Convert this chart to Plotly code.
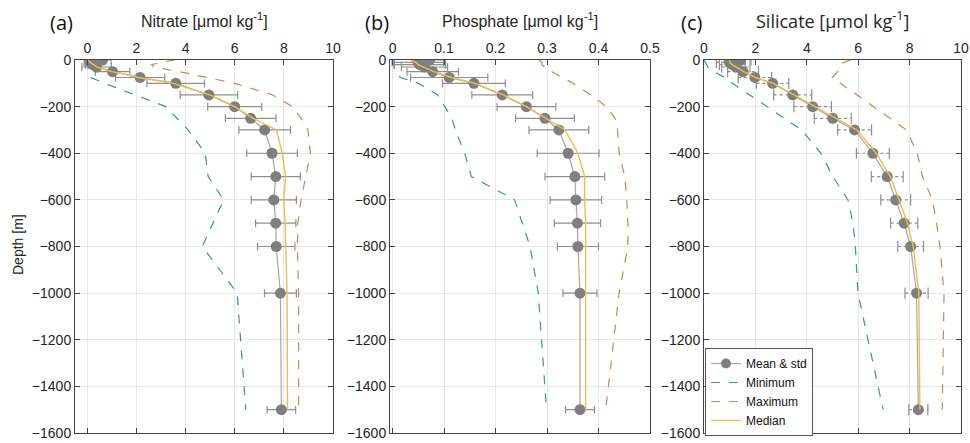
import plotly.graph_objects as go

depths = [0, -10, -20, -30, -50, -75, -100, -150, -200, -250, -300, -400, -500, -600, -700, -800, -1000, -1500]

# Nitrate
mean_a = [0.62, 0.12, 0.22, 0.38, 1.03, 2.15, 3.60, 4.95, 6.00, 6.65, 7.22, 7.52, 7.67, 7.59, 7.67, 7.69, 7.86, 7.90]
std_a = [0.35, 0.25, 0.30, 0.60, 0.70, 1.00, 1.17, 1.17, 1.10, 1.03, 1.05, 1.03, 1.00, 0.92, 0.82, 0.76, 0.65, 0.58]
min_a = [0.0, 0.0, 0.02, 0.03, 0.05, 0.15, 0.7, 1.95, 3.2, 3.65, 4.1, 4.8, 4.92, 5.55, 5.1, 4.68, 6.1, 6.45]
max_a = [3.57, 3.0, 2.62, 2.7, 3.75, 4.9, 6.0, 7.55, 8.35, 8.7, 8.98, 9.08, 8.9, 8.7, 8.57, 8.55, 8.6, 8.6]
med_a = [0.05, 0.12, 0.25, 0.4, 1.0, 2.1, 3.5, 5.0, 6.0, 6.75, 7.7, 7.93, 8.07, 8.0, 8.05, 8.07, 8.13, 8.15]

# Phosphate
mean_b = [0.072, 0.049, 0.053, 0.062, 0.078, 0.110, 0.158, 0.213, 0.260, 0.296, 0.323, 0.341, 0.354, 0.356, 0.359, 0.360, 0.364, 0.364]
std_b = [0.03, 0.05, 0.05, 0.045, 0.05, 0.075, 0.061, 0.059, 0.057, 0.057, 0.058, 0.060, 0.058, 0.050, 0.045, 0.040, 0.033, 0.028]
min_b = [0.003, 0.002, 0.002, 0.003, 0.005, 0.015, 0.05, 0.088, 0.101, 0.115, 0.122, 0.14, 0.153, 0.237, 0.252, 0.267, 0.283, 0.299]
max_b = [0.285, 0.29, 0.29, 0.295, 0.31, 0.33, 0.35, 0.385, 0.415, 0.432, 0.437, 0.44, 0.451, 0.455, 0.457, 0.457, 0.44, 0.414]
med_b = [0.035, 0.045, 0.05, 0.06, 0.08, 0.115, 0.16, 0.215, 0.26, 0.298, 0.335, 0.36, 0.373, 0.373, 0.375, 0.375, 0.375, 0.375]

# Silicate
mean_c = [1.43, 0.98, 1.10, 1.24, 1.52, 1.98, 2.67, 3.45, 4.23, 5.01, 5.86, 6.57, 7.13, 7.46, 7.79, 8.04, 8.27, 8.34]
std_c = [0.4, 0.5, 0.5, 0.55, 0.6, 0.65, 0.63, 0.74, 0.73, 0.72, 0.66, 0.64, 0.62, 0.58, 0.53, 0.50, 0.45, 0.37]
min_c = [0.0, 0.05, 0.1, 0.15, 0.4, 0.8, 1.1, 1.78, 2.45, 3.13, 3.8, 4.55, 5.01, 5.6, 5.8, 5.89, 5.99, 6.97]
max_c = [5.7, 5.45, 5.3, 5.3, 5.2, 4.99, 5.31, 5.95, 6.6, 7.24, 7.88, 8.3, 8.5, 8.89, 9.05, 9.18, 9.34, 9.27]
med_c = [1.0, 1.0, 1.1, 1.25, 1.55, 2.0, 2.7, 3.5, 4.3, 5.1, 5.95, 6.7, 7.25, 7.59, 7.92, 8.14, 8.36, 8.4]

titles = ["Nitrate [μmol kg<sup>-1</sup>]", "Phosphate [μmol kg<sup>-1</sup>]", "Silicate [μmol kg<sup>-1</sup>]"]
panel_labels = ["(a)", "(b)", "(c)"]
x_ranges = [[-0.5, 10], [-0.005, 0.5], [0, 10]]
x_ticktexts = [["0", "2", "4", "6", "8", "10"],
               ["0", "0.1", "0.2", "0.3", "0.4", "0.5"],
               ["0", "2", "4", "6", "8", "10"]]
x_tickvals = [[0, 2, 4, 6, 8, 10], [0, 0.1, 0.2, 0.3, 0.4, 0.5], [0, 2, 4, 6, 8, 10]]

C_MIN = "#3f8fae"
C_MAX = "#c9855f"
C_MED = "#e9c04e"
C_MEAN = "#7f7f7f"
C_ERR = "#8f8f8f"

W, H = 970, 443
px_x = [(75, 333), (390, 650), (704, 961)]
y_top, y_bot = 60, 433

fig = go.Figure()
data = [(mean_a, std_a, min_a, max_a, med_a),
        (mean_b, std_b, min_b, max_b, med_b),
        (mean_c, std_c, min_c, max_c, med_c)]

for i, (mn, sd, lo, hi, md) in enumerate(data):
    xa = "x" if i == 0 else f"x{i+1}"
    ya = "y" if i == 0 else f"y{i+1}"
    fig.add_trace(go.Scatter(x=lo, y=depths, xaxis=xa, yaxis=ya, mode="lines",
                             line=dict(color=C_MIN, width=1.2, dash="dash"),
                             name="Minimum", showlegend=False))
    fig.add_trace(go.Scatter(x=hi, y=depths, xaxis=xa, yaxis=ya, mode="lines",
                             line=dict(color=C_MAX, width=1.2, dash="dash"),
                             name="Maximum", showlegend=False))
    if i < 2:
        fig.add_trace(go.Scatter(x=mn, y=depths, xaxis=xa, yaxis=ya, mode="lines+markers",
                                 line=dict(color="#a6a6a6", width=1.2),
                                 marker=dict(color=C_MEAN, size=11),
                                 error_x=dict(type="data", array=sd, color=C_ERR, thickness=1.2, width=4),
                                 name="Mean & std", showlegend=False))
    else:
        ex, ey = [], []
        for m, s, d in zip(mn, sd, depths):
            ex += [m - s, m + s, None]
            ey += [d, d, None]
        fig.add_trace(go.Scatter(x=ex, y=ey, xaxis=xa, yaxis=ya, mode="lines+markers",
                                 line=dict(color=C_ERR, width=1.2, dash="dot"),
                                 marker=dict(symbol="line-ns-open", size=8, color=C_ERR,
                                             line=dict(color=C_ERR, width=1.2)),
                                 showlegend=False, hoverinfo="skip"))
        fig.add_trace(go.Scatter(x=mn, y=depths, xaxis=xa, yaxis=ya, mode="lines+markers",
                                 line=dict(color="#a6a6a6", width=1.2),
                                 marker=dict(color=C_MEAN, size=11),
                                 name="Mean & std", showlegend=False))
    fig.add_trace(go.Scatter(x=md, y=depths, xaxis=xa, yaxis=ya, mode="lines",
                             line=dict(color=C_MED, width=1.4),
                             name="Median", showlegend=False))

# legend entries (only once)
for nm, ln, mk in [("Mean & std", dict(color="#a6a6a6", width=1.2), dict(color=C_MEAN, size=10)),
                   ("Minimum", dict(color=C_MIN, width=1.2, dash="dash"), None),
                   ("Maximum", dict(color=C_MAX, width=1.2, dash="dash"), None),
                   ("Median", dict(color=C_MED, width=1.4), None)]:
    fig.add_trace(go.Scatter(x=[None], y=[None], xaxis="x3", yaxis="y3",
                             mode="lines+markers" if mk else "lines",
                             line=ln, marker=mk, name=nm, showlegend=True))

FONT = "Arial, Liberation Sans, sans-serif"
tickfont = dict(family=FONT, size=14, color="#262626")
layout = dict(width=W, height=H, margin=dict(l=0, r=0, t=0, b=0, autoexpand=False),
              paper_bgcolor="white", plot_bgcolor="white", showlegend=True,
              legend=dict(x=705 / W, y=1 - 348 / H, xanchor="left", yanchor="top",
                          bgcolor="white", bordercolor="#555555", borderwidth=1,
                          font=dict(family=FONT, size=12, color="#111111"),
                          tracegroupgap=0, itemwidth=30, traceorder="normal"))
ydom = [1 - y_bot / H, 1 - y_top / H]
annotations = []
for i in range(3):
    sx = "" if i == 0 else str(i + 1)
    layout["xaxis" + sx] = dict(domain=[px_x[i][0] / W, px_x[i][1] / W], range=x_ranges[i],
                                anchor="y" + sx, side="top", tickvals=x_tickvals[i], ticktext=x_ticktexts[i],
                                ticks="inside", ticklen=5, tickcolor="#444444", mirror="allticks",
                                showline=True, linecolor="#444444", linewidth=1, automargin=False,
                                showgrid=True, gridcolor="#e8e8e8", zeroline=False, tickfont=tickfont)
    layout["yaxis" + sx] = dict(domain=ydom, range=[-1600, 0], anchor="x" + sx, dtick=200,
                                ticks="inside", ticklen=5, tickcolor="#444444", mirror="allticks",
                                showline=True, linecolor="#444444", linewidth=1, automargin=False,
                                showgrid=True, gridcolor="#e8e8e8", zeroline=False, tickfont=tickfont)
    cx = (px_x[i][0] + px_x[i][1]) / 2
    title_font = dict(family=FONT, size=16, color="#262626") if i < 2 else \
        dict(family="Open Sans, sans-serif", size=18, color="#262626")
    annotations.append(dict(x=cx / W, y=1 - 20 / H, xref="paper", yref="paper", text=titles[i],
                            showarrow=False, font=title_font, xanchor="center", yanchor="middle"))
    annotations.append(dict(x=(px_x[i][0] - 13) / W, y=1 - 22 / H, xref="paper", yref="paper",
                            text=panel_labels[i], showarrow=False,
                            font=dict(family="Open Sans, sans-serif", size=20, color="#111111"),
                            xanchor="center", yanchor="middle"))
annotations.append(dict(x=18 / W, y=1 - 245 / H, xref="paper", yref="paper", text="Depth [m]",
                        showarrow=False, textangle=-90,
                        font=dict(family=FONT, size=14, color="#262626"),
                        xanchor="center", yanchor="middle"))
layout["annotations"] = annotations
fig.update_layout(**layout)
fig.write_html("out.html", config={"displayModeBar": False},
               post_script="document.body.style.margin='0';document.body.style.overflow='hidden';")
